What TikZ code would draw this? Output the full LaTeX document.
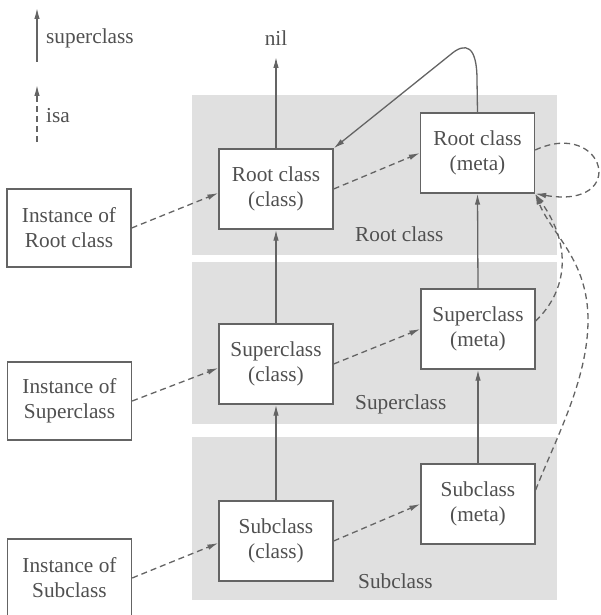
\documentclass[tikz,border=0pt]{standalone}
\usepackage{fontspec}
\setmainfont{Liberation Serif}
\newfontfamily\tnr{Liberation Serif}
\usetikzlibrary{arrows.meta}
\definecolor{bandc}{RGB}{224,224,224}
\definecolor{lnc}{RGB}{100,100,100}
\definecolor{txtc}{RGB}{80,80,80}
\begin{document}
\begin{tikzpicture}[x=1pt,y=-1pt,
  every node/.style={font=\tnr\fontsize{21.3}{25}\selectfont, text=txtc},
  clsbox/.style={draw=lnc, line width=1.3pt, fill=white, minimum width=114pt, minimum height=80pt, align=center, inner sep=0pt},
  instbox/.style={clsbox, minimum width=124pt, minimum height=78pt},
  supline/.style={draw=lnc, line width=1.3pt, -{Latex[length=11pt,width=5.5pt]}},
  isaline/.style={supline, dash pattern=on 6pt off 4pt},
  bandlbl/.style={anchor=west, inner sep=0pt}]
\useasboundingbox (0,0) rectangle (601,615);
\clip (0,0) rectangle (601,615);
% bands
\fill[bandc] (192,95) rectangle (557,255);
\fill[bandc] (192,262) rectangle (557,424);
\fill[bandc] (192,437) rectangle (557,600);
\node[bandlbl] (lroot) at (355,234) {Root class};
\node[bandlbl] (lsuper) at (355,404) {Superclass};
\node[bandlbl] (lsub) at (358,581) {Subclass};
% legend
\coordinate (l1a) at (37,62);
\coordinate (l1b) at (37,8);
\coordinate (l2a) at (37,142);
\coordinate (l2b) at (37,85);
\draw[supline] (l1a) -- (l1b);
\draw[isaline] (l2a) -- (l2b);
\node[anchor=west, inner sep=0pt] (tsup) at (46,38) {superclass};
\node[anchor=west, inner sep=0pt] (tisa) at (46,116) {isa};
% nodes
\node (nil) at (276,38) {nil};
\node[clsbox] (rc) at (276,189) {Root class\\(class)};
\node[clsbox] (rm) at (477.5,153) {Root class\\(meta)};
\node[clsbox] (sc) at (276,364) {Superclass\\(class)};
\node[clsbox] (sm) at (478,329) {Superclass\\(meta)};
\node[clsbox] (bc) at (276,541) {Subclass\\(class)};
\node[clsbox] (bm) at (478,504) {Subclass\\(meta)};
\node[instbox] (ir) at (69,228) {Instance of\\Root class};
\node[instbox] (is) at (69.5,401) {Instance of\\Superclass};
\node[instbox] (ib) at (69.5,578) {Instance of\\Subclass};
% superclass links
\draw[supline] (rc.north) -- ([yshift=-8pt]nil.south);
\draw[supline] (sc.north) -- (rc.south);
\draw[supline] (bc.north) -- (sc.south);
\draw[supline] (sm.north) -- (rm.south);
\draw[supline] (bm.north) -- (sm.south);
\coordinate (h1) at (477,80);
\coordinate (h2) at (450,55);
\draw[supline] (rm.north) -- (h1) .. controls (477,46) and (466,41) .. (h2) -- (rc.north east);
% isa links
\draw[isaline] (ir.east) -- ([yshift=-4pt]rc.west);
\draw[isaline] (is.east) -- ([yshift=-4pt]sc.west);
\draw[isaline] (ib.east) -- ([yshift=-2pt]bc.west);
\draw[isaline] (rc.east) -- (rm.west);
\draw[isaline] (sc.east) -- (sm.west);
\draw[isaline] (bc.east) -- (bm.west);
\draw[isaline] ([yshift=3pt]rm.east) .. controls (605,118) and (630,210) .. (rm.south east);
\draw[isaline] ([yshift=8pt]sm.east) .. controls (568,290) and (572,245) .. (rm.south east);
\coordinate (m1) at (588,320);
\draw[isaline] ([yshift=14pt]bm.east) .. controls (555,440) and (588,380) .. (m1) .. controls (588,260) and (552,235) .. (rm.south east);
\end{tikzpicture}
\end{document}
